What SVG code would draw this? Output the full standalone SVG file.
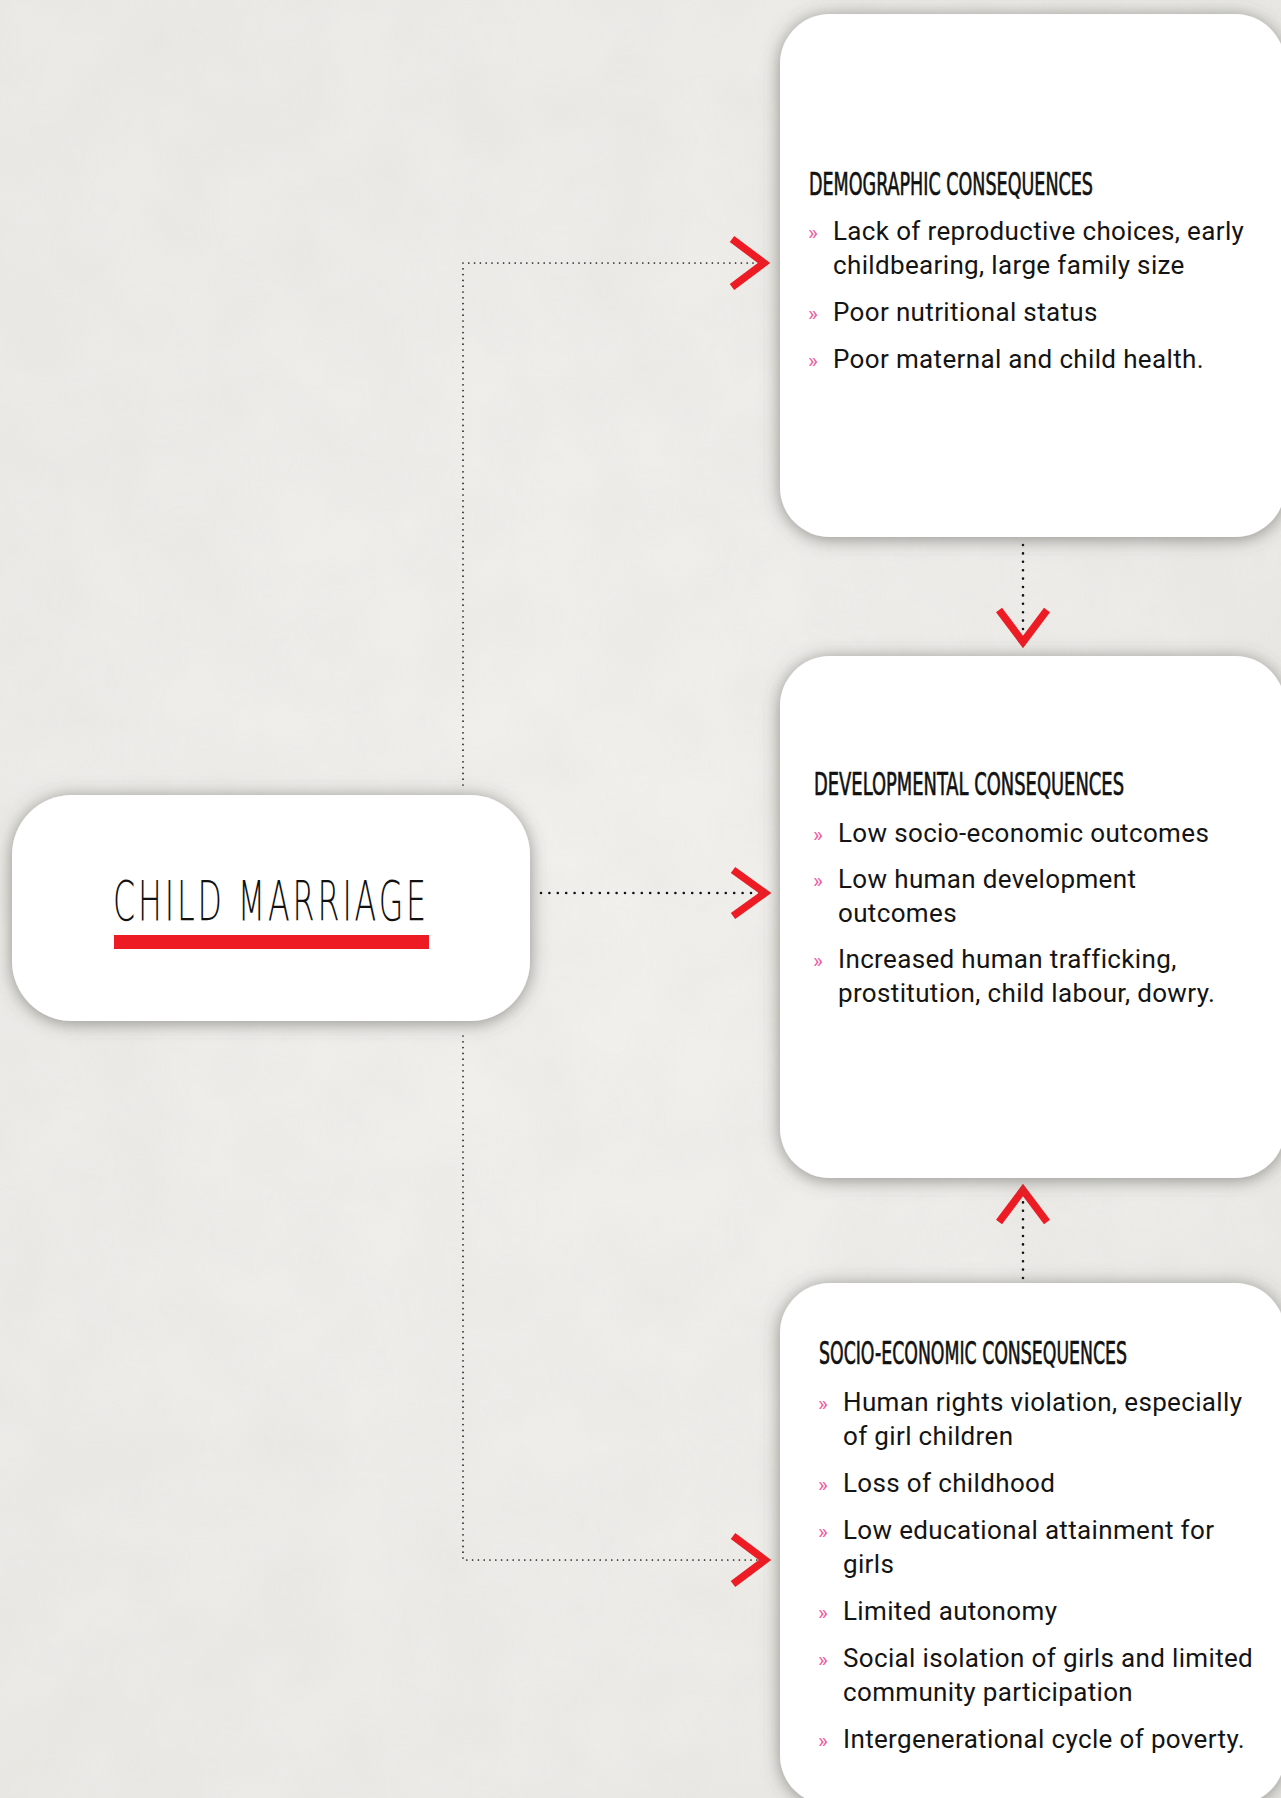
<svg xmlns="http://www.w3.org/2000/svg" width="1281" height="1798" viewBox="0 0 1281 1798">
  <defs>
    <filter id="shadow" x="-10%" y="-10%" width="120%" height="120%">
      <feDropShadow dx="0" dy="2" stdDeviation="9" flood-color="#55534d" flood-opacity="0.62"/>
    </filter>
    <filter id="paper" x="0" y="0" width="100%" height="100%">
      <feTurbulence type="fractalNoise" baseFrequency="0.012" numOctaves="3" seed="4" result="n"/>
      <feColorMatrix in="n" type="matrix" values="0 0 0 0 0.55  0 0 0 0 0.54  0 0 0 0 0.5  0 0 0 0.28 -0.08"/>
    </filter>
    <radialGradient id="bg" cx="0.45" cy="0.5" r="0.8">
      <stop offset="0" stop-color="#f1f0ed"/>
      <stop offset="1" stop-color="#e9e8e4"/>
    </radialGradient>
  </defs>
  <style>
    .box { fill: #ffffff; filter: url(#shadow); }
    .head { font-family: "Liberation Sans Narrow", "DejaVu Sans Condensed", "Liberation Sans", sans-serif; font-weight: normal; font-size: 26px; fill: #111111; stroke: #111111; stroke-width: 0.55px; }
    .item { font-family: Roboto, "Liberation Sans", sans-serif; font-size: 26px; letter-spacing: 0.35px; fill: #141414; }
    .bul { font-family: Roboto, "Liberation Sans", sans-serif; font-size: 21px; fill: #ef5ba1; }
    .title { font-family: "DejaVu Sans", "Liberation Sans", sans-serif; font-weight: 200; font-size: 55px; letter-spacing: 5px; fill: #111111; }
    .trunk { fill: none; stroke: #1a1a1a; stroke-width: 1.7; stroke-linecap: round; stroke-dasharray: 0 5.8; }
    .link { fill: none; stroke: #111111; stroke-width: 2.6; stroke-linecap: round; stroke-dasharray: 0 8.4; }
    .chev { fill: none; stroke: #ed1c24; stroke-width: 7.5; stroke-linejoin: miter; stroke-miterlimit: 10; }
  </style>

  <rect x="0" y="0" width="1281" height="1798" fill="url(#bg)"/>
  <rect x="0" y="0" width="1281" height="1798" fill="#000" filter="url(#paper)" opacity="0.6"/>

  <g id="connectors">
    <path class="trunk" d="M463 785 V263 H760"/>
    <path class="trunk" d="M463 1036 V1560 H760"/>
    <path class="link" d="M541 893 H760"/>
    <path class="link" d="M1023 545 V640"/>
    <path class="link" d="M1023 1278 V1192"/>
    <path class="chev" d="M732 239 L764 263 L732 287"/>
    <path class="chev" d="M733 870 L765 893 L733 916"/>
    <path class="chev" d="M733 1536 L765 1560 L733 1584"/>
    <path class="chev" d="M999 610 L1023 642 L1047 610"/>
    <path class="chev" d="M999 1222 L1023 1190 L1047 1222"/>
  </g>

  <g id="child-marriage">
    <rect class="box" x="12" y="795" width="518" height="226" rx="60" ry="60"/>
    <text class="title" x="113" y="920" textLength="316" lengthAdjust="spacingAndGlyphs">CHILD MARRIAGE</text>
    <rect x="114" y="935" width="315" height="14" fill="#ed1c24"/>
  </g>

  <g id="demographic">
    <rect class="box" x="780" y="14" width="505" height="523" rx="50" ry="50"/>
    <text class="head" transform="translate(809 195) scale(1 1.24)" x="0" y="0" textLength="284" lengthAdjust="spacingAndGlyphs">DEMOGRAPHIC CONSEQUENCES</text>
    <text class="bul" x="808" y="240">»</text>
    <text class="item" x="833" y="240">Lack of reproductive choices, early</text>
    <text class="item" x="833" y="274">childbearing, large family size</text>
    <text class="bul" x="808" y="321">»</text>
    <text class="item" x="833" y="321">Poor nutritional status</text>
    <text class="bul" x="808" y="368">»</text>
    <text class="item" x="833" y="368">Poor maternal and child health.</text>
  </g>

  <g id="developmental">
    <rect class="box" x="780" y="656" width="505" height="522" rx="50" ry="50"/>
    <text class="head" transform="translate(814 795) scale(1 1.24)" x="0" y="0" textLength="310" lengthAdjust="spacingAndGlyphs">DEVELOPMENTAL CONSEQUENCES</text>
    <text class="bul" x="813" y="842">»</text>
    <text class="item" x="838" y="842">Low socio-economic outcomes</text>
    <text class="bul" x="813" y="888">»</text>
    <text class="item" x="838" y="888">Low human development</text>
    <text class="item" x="838" y="922">outcomes</text>
    <text class="bul" x="813" y="968">»</text>
    <text class="item" x="838" y="968">Increased human trafficking,</text>
    <text class="item" x="838" y="1002">prostitution, child labour, dowry.</text>
  </g>

  <g id="socio-economic">
    <rect class="box" x="780" y="1283" width="505" height="522" rx="50" ry="50"/>
    <text class="head" transform="translate(819 1364) scale(1 1.24)" x="0" y="0" textLength="308" lengthAdjust="spacingAndGlyphs">SOCIO-ECONOMIC CONSEQUENCES</text>
    <text class="bul" x="818" y="1411">»</text>
    <text class="item" x="843" y="1411">Human rights violation, especially</text>
    <text class="item" x="843" y="1445">of girl children</text>
    <text class="bul" x="818" y="1492">»</text>
    <text class="item" x="843" y="1492">Loss of childhood</text>
    <text class="bul" x="818" y="1539">»</text>
    <text class="item" x="843" y="1539">Low educational attainment for</text>
    <text class="item" x="843" y="1573">girls</text>
    <text class="bul" x="818" y="1620">»</text>
    <text class="item" x="843" y="1620">Limited autonomy</text>
    <text class="bul" x="818" y="1667">»</text>
    <text class="item" x="843" y="1667">Social isolation of girls and limited</text>
    <text class="item" x="843" y="1701">community participation</text>
    <text class="bul" x="818" y="1748">»</text>
    <text class="item" x="843" y="1748">Intergenerational cycle of poverty.</text>
  </g>
</svg>
